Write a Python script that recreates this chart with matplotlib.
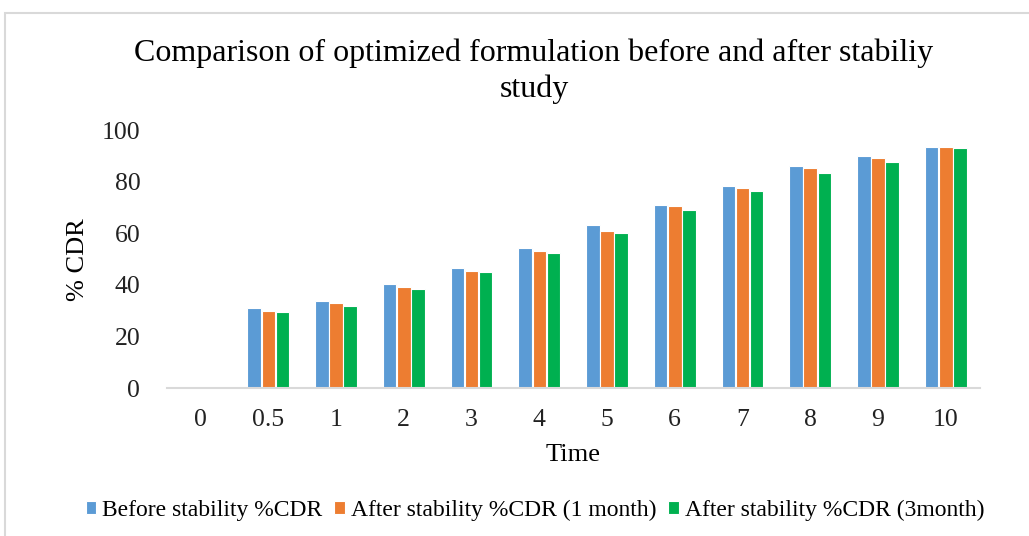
import numpy as np
import matplotlib.pyplot as plt
from matplotlib.patches import Rectangle

plt.rcParams['font.family'] = ['Liberation Serif', 'DejaVu Serif']

time_labels = ['0', '0.5', '1', '2', '3', '4', '5', '6', '7', '8', '9', '10']
before = [0, 30.9, 33.6, 40.3, 46.4, 54.3, 63.2, 70.9, 78.3, 86.1, 89.9, 93.5]
after_1m = [0, 29.8, 33.1, 39.1, 45.3, 53.2, 61.0, 70.5, 77.5, 85.3, 89.4, 93.5]
after_3m = [0, 29.4, 31.8, 38.6, 45.0, 52.3, 60.1, 69.2, 76.5, 83.4, 87.6, 93.0]

series = [
    ('Before stability %CDR', before, '#5B9BD5'),
    ('After stability %CDR (1 month)', after_1m, '#ED7D31'),
    ('After stability %CDR (3month)', after_3m, '#00B050'),
]

fig = plt.figure(figsize=(10.29, 5.36), dpi=100)
ax = fig.add_axes([0.162, 0.276, 0.79, 0.481])

x = np.arange(len(time_labels))
w = 0.2
for i, (name, vals, col) in enumerate(series):
    ax.bar(x + (i - 1) * w * 1.04, vals, w, color=col, edgecolor='white',
           linewidth=0.8, label=name)

ax.set_xlim(-0.5, 11.5)
ax.set_ylim(0, 100)
ax.set_yticks(range(0, 101, 20))
ax.set_xticks(x)
ax.set_xticklabels(time_labels)
ax.tick_params(length=0, labelsize=18.5, colors='#222222')
ax.tick_params(axis='y', pad=19)
ax.tick_params(axis='x', pad=15)
for s in ['top', 'right', 'left']:
    ax.spines[s].set_visible(False)
ax.spines['bottom'].set_color('#d9d9d9')
ax.spines['bottom'].set_linewidth(1.5)

ax.set_xlabel('Time', fontsize=19, labelpad=9.5)
ax.set_ylabel('% CDR', fontsize=19, labelpad=9)

fig.text(0.519, 0.901, 'Comparison of optimized formulation before and after stabiliy',
         ha='center', va='center', fontsize=23)
fig.text(0.519, 0.834, 'study', ha='center', va='center', fontsize=23)

fig.legend(loc='center', bbox_to_anchor=(0.52, 0.048), ncol=3, frameon=False,
           fontsize=17, handlelength=0.45, handleheight=0.45,
           handletextpad=0.25, columnspacing=0.5)

# outer chart border
fig.patches.append(Rectangle((0.005, -0.05), 1.1, 1.0 - 13 / 536 + 0.05,
                             transform=fig.transFigure, fill=False,
                             edgecolor='#d9d9d9', linewidth=1.5))

fig.savefig('out.png', dpi=100)
